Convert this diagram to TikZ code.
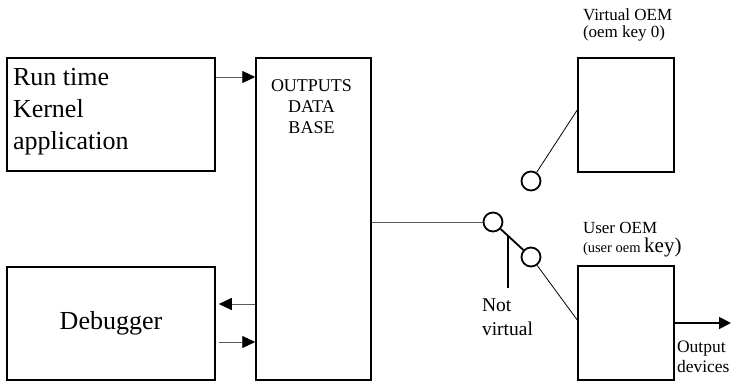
\documentclass[tikz,border=0pt]{standalone}
\usepackage{fontspec}
\setmainfont{Liberation Serif}
\usetikzlibrary{arrows.meta,calc}
\begin{document}
\begin{tikzpicture}[x=1pt,y=-1pt,
  blk/.style={draw=black,line width=1.5pt,inner sep=0pt,rectangle},
  conn/.style={draw=black!65,line width=0.9pt},
  arr/.style={conn,-{Triangle[length=13pt,width=12pt,color=black]}},
  thinl/.style={draw=black,line width=0.8pt},
  sw/.style={draw=black,line width=1.8pt},
  swc/.style={circle,draw=black,line width=1.8pt,minimum size=19pt,inner sep=0pt},
  lbl/.style={inner sep=0pt,outer sep=0pt,font=#1},
]
\useasboundingbox (0,0) rectangle (733,381);
% boxes
\node[blk,minimum width=208pt,minimum height=113pt] (rt) at (111,114.5) {};
\node[blk,minimum width=208pt,minimum height=113pt] (dbg) at (111,323.5) {};
\node[blk,minimum width=115pt,minimum height=322pt] (odb) at (313.5,219) {};
\node[blk,minimum width=96pt,minimum height=114pt] (voem) at (626,115) {};
\node[blk,minimum width=96pt,minimum height=114pt] (uoem) at (626,323) {};
% texts
\node[lbl={\fontsize{26}{32}\selectfont},align=left,anchor=north west] (trt) at (13,68) {Run time\\Kernel\\application};
\node[lbl={\fontsize{26}{32}\selectfont}] (tdbg) at (dbg.center) {Debugger};
\node[lbl={\fontsize{18}{21}\selectfont},align=center,anchor=north] (todb) at (311.5,79.5) {OUTPUTS\\DATA\\BASE};
\node[lbl={\fontsize{17}{17}\selectfont},align=left,anchor=north west] (tvoem) at (583,9) {Virtual OEM\\(oem key 0)};
\node[lbl={\fontsize{17}{19}\selectfont},anchor=base west] (tuoem1) at (583,233) {User OEM};
\node[lbl={\fontsize{14.5}{19}\selectfont},anchor=base west] (tuoem2) at (583,252) {(user oem {\fontsize{21}{21}\selectfont key)}};
\node[lbl={\fontsize{19.5}{24}\selectfont},align=left,anchor=north west] (tnv) at (482,299) {Not\\virtual};
\node[lbl={\fontsize{17.5}{20}\selectfont},align=left,anchor=north west] (tout) at (677,341) {Output\\devices};
% switch
\node[swc] (c1) at (493,222) {};
\node[swc] (c2) at (531,257) {};
\node[swc] (c3) at (531,181) {};
\coordinate (s1) at (508,235);
\coordinate (s2) at (508,288);
\coordinate (otip) at (731,323);
% connectors
\draw[arr] ([yshift=37.5pt]rt.east) -- ([yshift=37.5pt]rt.east -| odb.west);
\draw[arr] ([yshift=19.5pt]dbg.east -| odb.west) -- ([yshift=19.5pt,xshift=3pt]dbg.east);
\draw[arr] ([yshift=-18.5pt,xshift=3pt]dbg.east) -- ([yshift=-18.5pt]dbg.east -| odb.west);
\draw[conn] (c1 -| odb.east) -- (c1);
\draw[sw] (c1) -- (c2);
\draw[sw] (s1) -- (s2);
\draw[thinl] (c2) -- ([yshift=3pt]uoem.west);
\draw[thinl] (c3) -- ([yshift=5pt]voem.west);
\draw[sw,-{Triangle[length=12pt,width=12pt]}] (uoem.east) -- (otip);
\end{tikzpicture}
\end{document}
